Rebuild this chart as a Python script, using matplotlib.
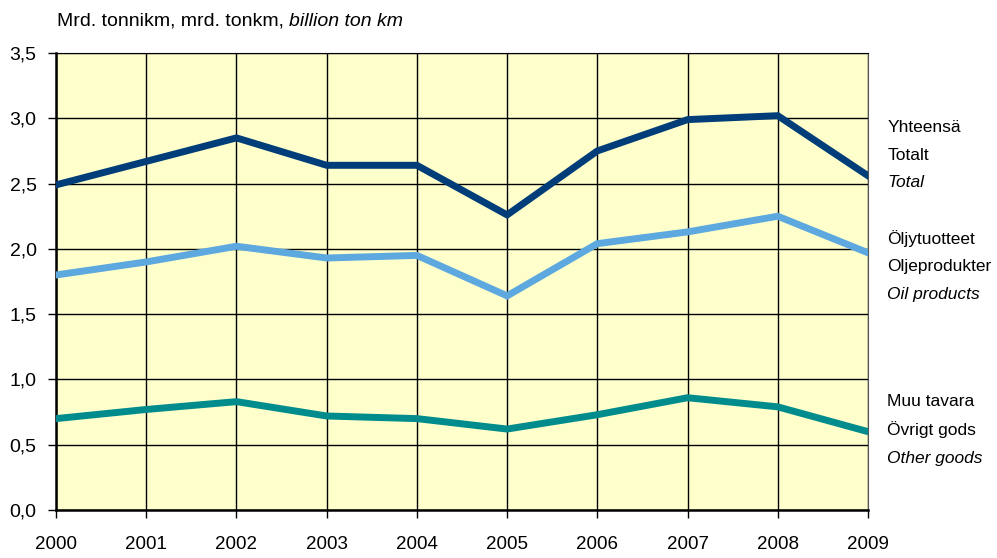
import matplotlib
matplotlib.use("Agg")
import matplotlib.pyplot as plt
from matplotlib.ticker import FuncFormatter

years = [2000, 2001, 2002, 2003, 2004, 2005, 2006, 2007, 2008, 2009]
total = [2.49, 2.67, 2.85, 2.64, 2.64, 2.26, 2.75, 2.99, 3.02, 2.56]
oil = [1.80, 1.90, 2.02, 1.93, 1.95, 1.64, 2.04, 2.13, 2.25, 1.97]
other = [0.70, 0.77, 0.83, 0.72, 0.70, 0.62, 0.73, 0.86, 0.79, 0.60]

labels_total = ["Yhteensä", "Totalt", "Total"]
labels_oil = ["Öljytuotteet", "Oljeprodukter", "Oil products"]
labels_other = ["Muu tavara", "Övrigt gods", "Other goods"]

plt.rcParams["font.family"] = ["Liberation Sans", "DejaVu Sans"]

fig = plt.figure(figsize=(9.97, 5.58), dpi=100)
ax = fig.add_axes([0.0562, 0.086, 0.8144, 0.819])
ax.set_facecolor("#FFFFCC")

ax.plot(years, total, color="#003D79", lw=5, solid_joinstyle="miter", zorder=3)
ax.plot(years, oil, color="#5DA9DF", lw=5, solid_joinstyle="miter", zorder=3)
ax.plot(years, other, color="#008C8C", lw=5, solid_joinstyle="miter", zorder=3)

ax.set_xlim(2000, 2009)
ax.set_ylim(0, 3.5)
ax.set_xticks(years)
ax.set_yticks([0, 0.5, 1.0, 1.5, 2.0, 2.5, 3.0, 3.5])
ax.yaxis.set_major_formatter(FuncFormatter(lambda v, p: ("%.1f" % v).replace(".", ",")))
ax.grid(True, color="black", lw=1.0)
ax.set_axisbelow(True)
ax.tick_params(axis="both", direction="out", length=6, width=1, labelsize=13.5, colors="black")
ax.tick_params(axis="x", pad=13)
ax.tick_params(axis="y", labelsize=14, pad=8)
for s in ["left", "bottom"]:
    ax.spines[s].set_linewidth(1.8)
ax.spines["right"].set_color("#555555")
ax.spines["top"].set_color("black")

fig.text(0.057, 0.962, "Mrd. tonnikm, mrd. tonkm, ", fontsize=14, va="center", ha="left")
t = fig.texts[-1]
fig.canvas.draw()
bb = t.get_window_extent()
fig.text(bb.x1 / fig.bbox.width, 0.962, "billion ton km", fontsize=14, va="center",
         ha="left", style="italic")

def side_labels(lines, y0):
    for i, s in enumerate(lines):
        fig.text(0.89, 1 - (y0 + 28 * i) / 558, s, fontsize=12.5, va="center", ha="left",
                 style="italic" if i == 2 else "normal")

side_labels(labels_total, 127)
side_labels(labels_oil, 239)
side_labels(labels_other, 402)

fig.savefig("out.png", dpi=100)
